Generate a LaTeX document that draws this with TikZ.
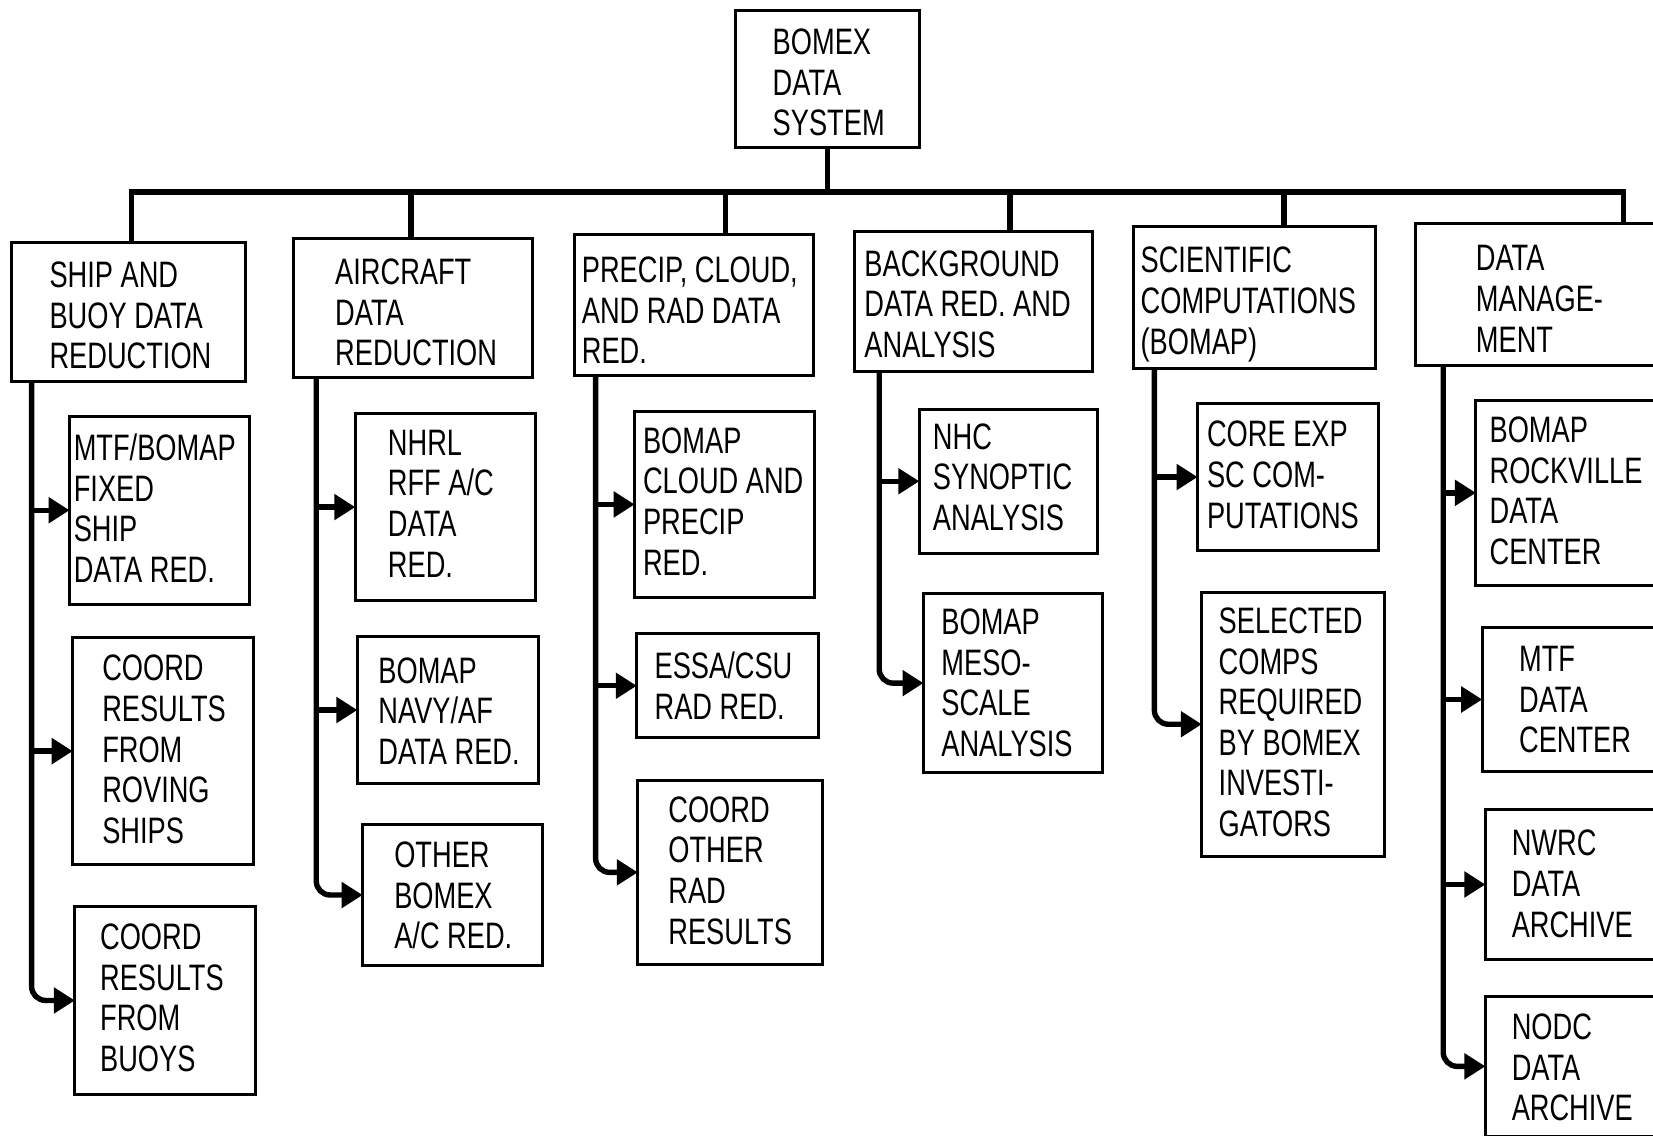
\documentclass[tikz,border=0pt]{standalone}
\usepackage{fontspec}
\setmainfont{Liberation Sans}[FakeStretch=0.74]
\usetikzlibrary{arrows.meta}
\tikzset{
  box/.style={draw, line width=1.5pt, anchor=north west, inner sep=0pt, outer sep=0pt},
  txt/.style={anchor=north west, inner sep=0pt, outer sep=0pt, align=left,
              font=\fontsize{18.4}{20.3}\selectfont},
  bus/.style={line width=2.7pt},
  arr/.style={line width=2.7pt, -{Triangle[length=10.5pt,width=12.5pt]}},
}
\newcommand\bx[8]{%
  \pgfmathsetmacro\bxw{(#4-#2)*0.5272}\pgfmathsetmacro\bxh{(#5-#3)*0.5272}%
  \node[box, minimum width=\bxw pt, minimum height=\bxh pt] (#1) at (#2,#3) {};
  \node[txt] (#1t) at (#6,#7-27) {\strut #8};}
\begin{document}
\begin{tikzpicture}[x=0.5272pt,y=-0.5272pt]
\useasboundingbox (0,0) rectangle (1568,1077);
\clip (0,0) rectangle (1568,1077);
% top
\bx{top}{698}{10}{872}{140}{733}{52}{BOMEX\\DATA\\SYSTEM}
% level 1
\bx{n1}{11}{230}{233}{362}{47}{273}{SHIP AND\\BUOY DATA\\REDUCTION}
\bx{n2}{278}{226}{505}{358}{318}{270}{AIRCRAFT\\DATA\\REDUCTION}
\bx{n3}{545}{222}{772}{356}{552}{268}{PRECIP, CLOUD,\\AND RAD DATA\\RED.}
\bx{n4}{811}{220}{1036}{352}{820}{262}{BACKGROUND\\DATA RED. AND\\ANALYSIS}
\bx{n5}{1075}{215}{1305}{350}{1082}{259}{SCIENTIFIC\\COMPUTATIONS\\(BOMAP)}
\bx{n6}{1343}{212}{1700}{347}{1400}{257}{DATA\\MANAGE-\\MENT}
% level 2
\bx{a1}{66}{395}{237}{573}{70}{437}{MTF/BOMAP\\FIXED\\SHIP\\DATA RED.}
\bx{a2}{69}{605}{240}{820}{97}{646}{COORD\\RESULTS\\FROM\\ROVING\\SHIPS}
\bx{a3}{71}{860}{242}{1038}{95}{901}{COORD\\RESULTS\\FROM\\BUOYS}
\bx{b1}{337}{392}{508}{570}{368}{432}{NHRL\\RFF A/C\\DATA\\RED.}
\bx{b2}{339}{604}{511}{743}{359}{648}{BOMAP\\NAVY/AF\\DATA RED.}
\bx{b3}{344}{782}{515}{916}{374}{823}{OTHER\\BOMEX\\A/C RED.}
\bx{c1}{602}{390}{773}{567}{610}{430}{BOMAP\\CLOUD AND\\PRECIP\\RED.}
\bx{c2}{604}{601}{776}{700}{621}{644}{ESSA/CSU\\RAD RED.}
\bx{c3}{605}{740}{780}{915}{634}{780}{COORD\\OTHER\\RAD\\RESULTS}
\bx{d1}{872}{388}{1041}{525}{885}{426}{NHC\\SYNOPTIC\\ANALYSIS}
\bx{d2}{876}{563}{1046}{733}{893}{602}{BOMAP\\MESO-\\SCALE\\ANALYSIS}
\bx{e1}{1136}{383}{1308}{522}{1145}{424}{CORE EXP\\SC COM-\\PUTATIONS}
\bx{e2}{1140}{562}{1313}{812}{1156}{601}{SELECTED\\COMPS\\REQUIRED\\BY BOMEX\\INVESTI-\\GATORS}
\bx{f1}{1400}{380}{1700}{555}{1413}{420}{BOMAP\\ROCKVILLE\\DATA\\CENTER}
\bx{f2}{1406}{595}{1700}{732}{1441}{637}{MTF\\DATA\\CENTER}
\bx{f3}{1409}{768}{1700}{910}{1434}{812}{NWRC\\DATA\\ARCHIVE}
\bx{f4}{1409}{945}{1700}{1078}{1434}{986}{NODC\\DATA\\ARCHIVE}
% bus
\coordinate (k1) at (125,182);
\coordinate (k2) at (390,182);
\coordinate (k3) at (688,182);
\coordinate (k4) at (958,182);
\coordinate (k5) at (1218,182);
\coordinate (k6) at (1540,182);
\draw[bus] (top.south) -- (top.south |- k1);
\draw[bus] (k1 |- n1.north) -- (k1) -- (k6) -- (k6 |- n6.north);
\draw[bus] (k2) -- (k2 |- n2.north);
\draw[bus] (k3) -- (k3 |- n3.north);
\draw[bus] (k4) -- (k4 |- n4.north);
\draw[bus] (k5) -- (k5 |- n5.north);
% spines
\coordinate (s1) at (30,0);
\coordinate (s2) at (300,0);
\coordinate (s3) at (565,0);
\coordinate (s4) at (834,0);
\coordinate (s5) at (1095,0);
\coordinate (s6) at (1369,0);
\draw[arr, rounded corners=7pt] (s1 |- n1.south) |- (a3.west);
\draw[arr] (s1 |- a1.west) -- (a1.west);
\draw[arr] (s1 |- a2.west) -- (a2.west);
\draw[arr, rounded corners=7pt] (s2 |- n2.south) |- (b3.west);
\draw[arr] (s2 |- b1.west) -- (b1.west);
\draw[arr] (s2 |- b2.west) -- (b2.west);
\draw[arr, rounded corners=7pt] (s3 |- n3.south) |- (c3.west);
\draw[arr] (s3 |- c1.west) -- (c1.west);
\draw[arr] (s3 |- c2.west) -- (c2.west);
\draw[arr, rounded corners=7pt] (s4 |- n4.south) |- (d2.west);
\draw[arr] (s4 |- d1.west) -- (d1.west);
\draw[arr, rounded corners=7pt] (s5 |- n5.south) |- (e2.west);
\draw[arr] (s5 |- e1.west) -- (e1.west);
\draw[arr, rounded corners=7pt] (s6 |- n6.south) |- (f4.west);
\draw[arr] (s6 |- f1.west) -- (f1.west);
\draw[arr] (s6 |- f2.west) -- (f2.west);
\draw[arr] (s6 |- f3.west) -- (f3.west);
\end{tikzpicture}
\end{document}
